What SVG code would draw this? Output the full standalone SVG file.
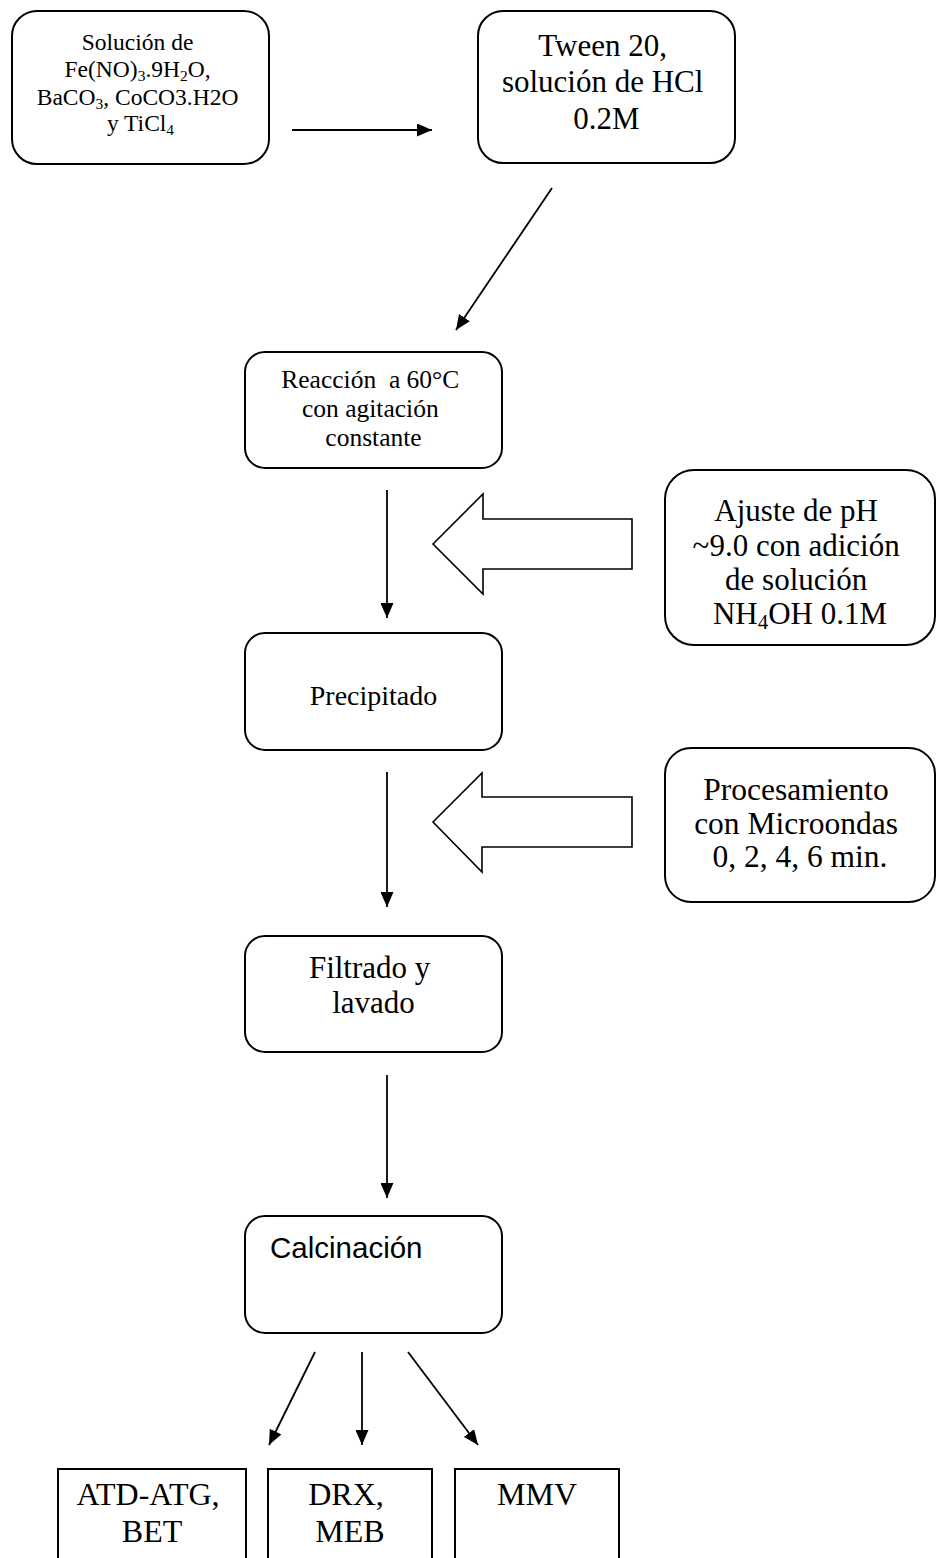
<svg xmlns="http://www.w3.org/2000/svg" width="937" height="1558" viewBox="0 0 937 1558">
  <style>
    .box { fill: #ffffff; stroke: #000000; stroke-width: 2; }
    .blk { fill: #ffffff; stroke: #000000; stroke-width: 1.6; stroke-linejoin: miter; }
    .link { fill: none; stroke: #000000; stroke-width: 1.8; }
    .serif { font-family: "Liberation Serif", "Times New Roman", serif; fill: #000000; text-anchor: middle; }
    .sans { font-family: "Liberation Sans", Arial, sans-serif; fill: #000000; }
  </style>
  <defs>
    <marker id="head" viewBox="0 0 15 13" refX="15" refY="6.5" markerWidth="15" markerHeight="13" markerUnits="userSpaceOnUse" orient="auto">
      <path d="M0,0 L15,6.5 L0,13 z" fill="#000000"/>
    </marker>
  </defs>

  <rect width="937" height="1558" fill="#ffffff"/>

  <!-- process steps -->
  <g id="reactivos">
    <rect class="box" x="12" y="11" width="257" height="153" rx="25" ry="25"/>
    <text class="serif" font-size="23.5">
      <tspan x="140.5" y="50">Solución de</tspan>
      <tspan x="140.5" y="77">Fe(NO)<tspan font-size="15.5" dy="4">3</tspan><tspan dy="-4">.9H</tspan><tspan font-size="15.5" dy="4">2</tspan><tspan dy="-4">O,</tspan></tspan>
      <tspan x="140.5" y="105">BaCO<tspan font-size="15.5" dy="4">3</tspan><tspan dy="-4">, CoCO3.H2O</tspan></tspan>
      <tspan x="140.5" y="131">y TiCl<tspan font-size="15.5" dy="4">4</tspan></tspan>
    </text>
  </g>

  <g id="tween">
    <rect class="box" x="478" y="11" width="257" height="152" rx="25" ry="25"/>
    <text class="serif" font-size="31">
      <tspan x="606.5" y="56">Tween 20,</tspan>
      <tspan x="606.5" y="92">solución de HCl</tspan>
      <tspan x="606.5" y="129">0.2M</tspan>
    </text>
  </g>

  <g id="reaccion">
    <rect class="box" x="245" y="352" width="257" height="116" rx="20" ry="20"/>
    <text class="serif" font-size="25.5">
      <tspan x="373.5" y="388" xml:space="preserve">Reacción  a 60°C</tspan>
      <tspan x="373.5" y="417">con agitación</tspan>
      <tspan x="373.5" y="446">constante</tspan>
    </text>
  </g>

  <g id="ajuste-ph">
    <rect class="box" x="665" y="470" width="270" height="175" rx="29" ry="29"/>
    <text class="serif" font-size="31">
      <tspan x="800" y="521">Ajuste de pH</tspan>
      <tspan x="800" y="556">~9.0 con adición</tspan>
      <tspan x="800" y="590">de solución</tspan>
      <tspan x="800" y="624">NH<tspan font-size="21" dy="5">4</tspan><tspan dy="-5">OH 0.1M</tspan></tspan>
    </text>
  </g>

  <g id="precipitado">
    <rect class="box" x="245" y="633" width="257" height="117" rx="20" ry="20"/>
    <text class="serif" font-size="28" x="373.5" y="705">Precipitado</text>
  </g>

  <g id="microondas">
    <rect class="box" x="665" y="748" width="270" height="154" rx="26" ry="26"/>
    <text class="serif" font-size="31.5">
      <tspan x="800" y="800">Procesamiento</tspan>
      <tspan x="800" y="834">con Microondas</tspan>
      <tspan x="800" y="867">0, 2, 4, 6 min.</tspan>
    </text>
  </g>

  <g id="filtrado">
    <rect class="box" x="245" y="936" width="257" height="116" rx="20" ry="20"/>
    <text class="serif" font-size="31">
      <tspan x="373.5" y="978">Filtrado y</tspan>
      <tspan x="373.5" y="1013">lavado</tspan>
    </text>
  </g>

  <g id="calcinacion">
    <rect class="box" x="245" y="1216" width="257" height="117" rx="20" ry="20"/>
    <text class="sans" font-size="29.5" x="270" y="1258">Calcinación</text>
  </g>

  <!-- characterisation techniques -->
  <g id="atd-atg">
    <rect class="box" x="58" y="1469" width="188" height="110"/>
    <text class="serif" font-size="32">
      <tspan x="152" y="1505">ATD-ATG,</tspan>
      <tspan x="152" y="1542">BET</tspan>
    </text>
  </g>

  <g id="drx">
    <rect class="box" x="268" y="1469" width="164" height="110"/>
    <text class="serif" font-size="32">
      <tspan x="350" y="1505">DRX,</tspan>
      <tspan x="350" y="1542">MEB</tspan>
    </text>
  </g>

  <g id="mmv">
    <rect class="box" x="455" y="1469" width="164" height="110"/>
    <text class="serif" font-size="32" x="537" y="1505">MMV</text>
  </g>

  <!-- connectors -->
  <g id="connectors">
    <line class="link" x1="292" y1="130" x2="432" y2="130" marker-end="url(#head)"/>
    <line class="link" x1="552" y1="188" x2="456" y2="330" marker-end="url(#head)"/>
    <line class="link" x1="387" y1="490" x2="387" y2="618" marker-end="url(#head)"/>
    <line class="link" x1="387" y1="772" x2="387" y2="907" marker-end="url(#head)"/>
    <line class="link" x1="387" y1="1075" x2="387" y2="1198" marker-end="url(#head)"/>
    <line class="link" x1="315" y1="1352" x2="269" y2="1445" marker-end="url(#head)"/>
    <line class="link" x1="362" y1="1352" x2="362" y2="1445" marker-end="url(#head)"/>
    <line class="link" x1="408" y1="1352" x2="478" y2="1445" marker-end="url(#head)"/>
    <!-- block arrows feeding the main line -->
    <polygon class="blk" points="433,544 483,494 483,519 632,519 632,569 483,569 483,594"/>
    <polygon class="blk" points="433,822 482,773 482,797 632,797 632,847 482,847 482,872"/>
  </g>
</svg>
